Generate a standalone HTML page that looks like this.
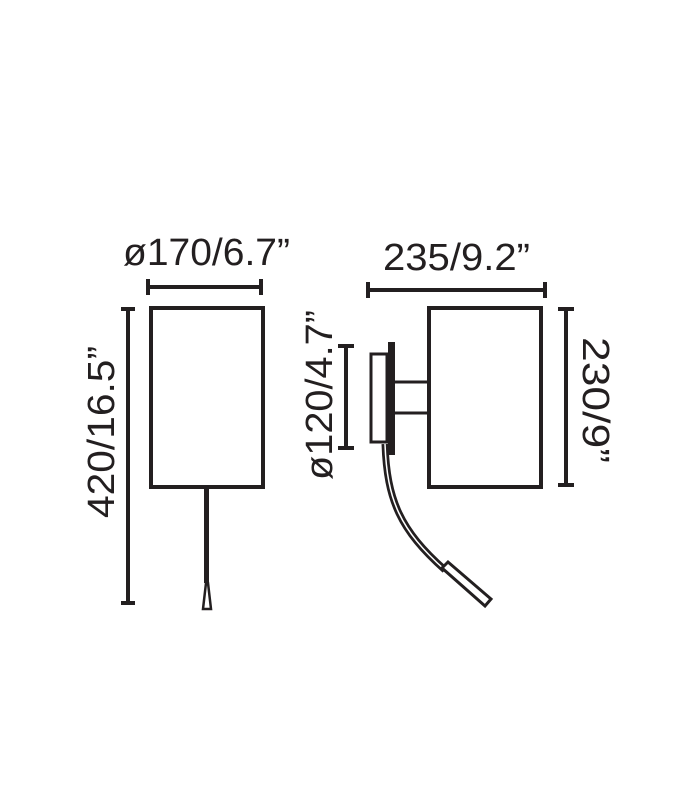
<!DOCTYPE html>
<html><head><meta charset="utf-8"><style>html,body{margin:0;padding:0;background:#fff}svg{display:block}</style></head>
<body>
<svg width="680" height="800" viewBox="0 0 680 800" xmlns="http://www.w3.org/2000/svg">
<g fill="none" stroke="#231f20" stroke-width="4">
  <!-- left lamp -->
  <rect x="151" y="308" width="112" height="179"/>
  <line x1="148" y1="287" x2="261" y2="287"/>
  <line x1="148" y1="279" x2="148" y2="295"/>
  <line x1="261" y1="279" x2="261" y2="295"/>
  <line x1="128" y1="308" x2="128" y2="604"/>
  <line x1="121" y1="309" x2="135" y2="309"/>
  <line x1="121" y1="603" x2="135" y2="603"/>
  <!-- right lamp -->
  <rect x="429" y="308" width="112" height="179"/>
  <line x1="368" y1="290" x2="545" y2="290"/>
  <line x1="368" y1="282" x2="368" y2="298"/>
  <line x1="545" y1="282" x2="545" y2="298"/>
  <line x1="566" y1="308" x2="566" y2="486"/>
  <line x1="558" y1="309" x2="574" y2="309"/>
  <line x1="558" y1="485" x2="574" y2="485"/>
  <line x1="346" y1="345" x2="346" y2="449"/>
  <line x1="338" y1="346" x2="354" y2="346"/>
  <line x1="338" y1="448" x2="354" y2="448"/>
  <rect x="371" y="354" width="16" height="88" stroke-width="3"/>
  <line x1="395" y1="382" x2="428" y2="382" stroke-width="3"/>
  <line x1="395" y1="413" x2="428" y2="413" stroke-width="3"/>
  <path d="M385 444 C 387 500, 400 530, 445 570" stroke-width="7"/>
  <path d="M385 444 C 387 500, 400 530, 445 570" stroke="#fff" stroke-width="1.5"/>
  <path d="M442 568 L448 562 L491 599 L485 606 Z" fill="#fff" stroke-width="3"/>
  <path d="M203 609 L206 583 L208 583 L211 609 Z" fill="#fff" stroke-width="2.5"/>
</g>
<rect x="388" y="342" width="7" height="113" fill="#231f20"/>
<rect x="204" y="488" width="5" height="95" fill="#231f20"/>
<g font-family="'Liberation Sans', sans-serif" font-size="38" fill="#231f20">
  <text x="123" y="265" textLength="167" lengthAdjust="spacingAndGlyphs">ø170/6.7”</text>
  <text x="383" y="270" textLength="147" lengthAdjust="spacingAndGlyphs">235/9.2”</text>
  <text transform="translate(114,518) rotate(-90)" textLength="172" lengthAdjust="spacingAndGlyphs">420/16.5”</text>
  <text transform="translate(332,480) rotate(-90)" textLength="170" lengthAdjust="spacingAndGlyphs">ø120/4.7”</text>
  <text transform="translate(583,337) rotate(90)" textLength="126" lengthAdjust="spacingAndGlyphs">230/9”</text>
</g>
</svg>
</body></html>
